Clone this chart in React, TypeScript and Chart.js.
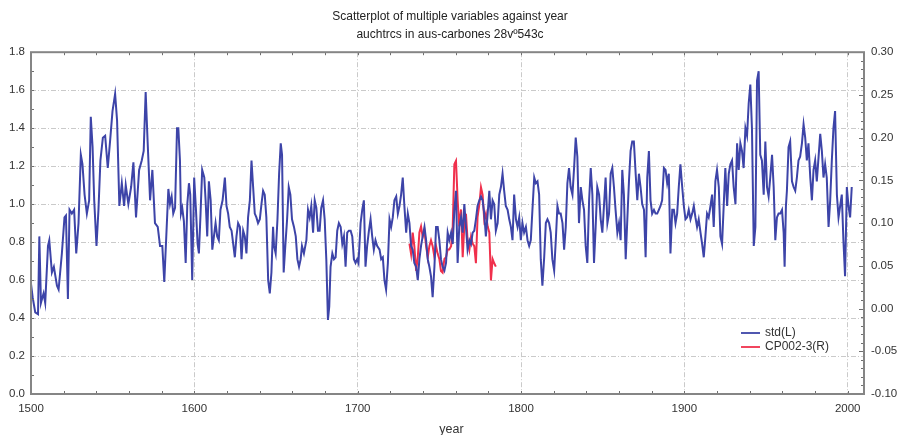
import React, { useEffect, useRef } from 'react';
import { Chart, registerables } from 'chart.js';

Chart.register(...registerables);

const titleLines = ['Scatterplot of multiple variables against year', 'auchtrcs in aus-carbones 28vº543c'];
const xTitle = 'year';
const seriesNames = ['std(L)', 'CP002-3(R)'];
const xTicks = [1500, 1600, 1700, 1800, 1900, 2000];
const leftTicks = [0, 0.2, 0.4, 0.6, 0.8, 1.0, 1.2, 1.4, 1.6, 1.8];
const rightTicks = [-0.1, -0.05, 0, 0.05, 0.1, 0.15, 0.2, 0.25, 0.3];

const stdYears = [
  1500.0, 1501.0, 1502.6, 1504.3, 1505.1, 1506.1, 1507.7, 1508.7, 1510.4, 1511.2, 1512.8, 1514.0, 1515.9, 1516.9, 1518.9,
  1520.5, 1521.4, 1522.6, 1523.6, 1525.0, 1526.4, 1527.7, 1529.1, 1530.5, 1531.5, 1532.8, 1534.2, 1535.6, 1536.6, 1537.7,
  1538.7, 1540.1, 1541.3, 1542.5, 1544.0, 1545.4, 1547.0, 1548.4, 1549.9, 1551.5, 1552.7, 1554.1, 1555.6, 1557.0, 1558.0,
  1559.6, 1561.3, 1562.7, 1564.3, 1566.2, 1567.8, 1569.0, 1570.2, 1571.4, 1572.9, 1574.3, 1575.9, 1577.6, 1579.0, 1580.4,
  1581.6,
  1584.1, 1585.1, 1586.1, 1587.1, 1588.2, 1589.4, 1590.2, 1591.2, 1591.8, 1592.6, 1593.6, 1594.7, 1595.7, 1596.7, 1597.5,
  1598.7, 1599.9, 1601.0, 1602.0, 1602.8, 1603.8, 1604.8, 1606.1, 1606.9, 1607.9, 1608.9, 1610.0, 1611.0, 1612.0, 1613.0,
  1614.0, 1615.0, 1616.0, 1617.3, 1618.7, 1619.7, 1620.7, 1621.7, 1622.8, 1623.8, 1624.8, 1625.8, 1626.8, 1627.9, 1628.9,
  1629.9, 1630.9, 1631.9, 1632.9, 1634.0, 1635.0, 1636.0, 1637.0, 1638.0, 1639.0, 1640.1, 1641.1, 1642.1, 1643.1, 1644.1,
  1645.2, 1646.2, 1647.2, 1648.2, 1648.8, 1649.8, 1650.9, 1651.9, 1652.9, 1653.7, 1654.7, 1655.7, 1656.8, 1657.8, 1658.8,
  1659.8, 1661.0, 1662.1, 1663.1, 1664.1, 1665.1, 1665.9, 1667.1,
  1668.6, 1669.6, 1670.6, 1671.6, 1672.7, 1673.7, 1674.7, 1675.7, 1676.7, 1677.7, 1678.8, 1679.8, 1680.8, 1681.8, 1682.6,
  1683.4, 1684.5, 1685.5, 1686.5, 1687.5, 1688.5, 1689.6, 1690.6, 1691.6, 1692.6, 1693.6, 1694.6, 1695.7, 1696.7, 1697.7,
  1698.7, 1699.7, 1700.5, 1701.8, 1702.8, 1703.8, 1704.8, 1705.8, 1706.9, 1707.9, 1708.9, 1709.9, 1710.9, 1711.9, 1713.4,
  1714.4, 1715.4, 1716.4, 1717.4, 1718.5, 1719.5, 1720.5, 1721.5, 1722.5, 1723.6, 1724.6, 1725.6, 1726.6, 1727.6, 1728.6,
  1729.7, 1730.7, 1731.7, 1732.7, 1733.7, 1734.7, 1735.8, 1736.8, 1737.8, 1738.8, 1739.8, 1740.9, 1741.9, 1742.9, 1743.9,
  1744.9, 1745.9, 1747.0, 1748.0, 1749.0, 1750.0, 1751.0, 1752.0, 1753.1, 1754.1,
  1755.1, 1756.1, 1757.2, 1758.2, 1759.2, 1760.2, 1761.2, 1762.2, 1763.3, 1764.3, 1765.3, 1766.3, 1767.3, 1768.4, 1769.4,
  1770.4, 1771.4, 1772.4, 1773.4, 1774.5, 1775.5, 1776.5, 1777.5, 1778.5, 1779.6, 1780.6, 1781.6, 1782.6, 1783.6, 1784.6,
  1785.7, 1786.7, 1787.7, 1788.7, 1789.7, 1790.7, 1791.8, 1792.8, 1793.8, 1794.8, 1795.8, 1796.9, 1797.9, 1798.9, 1799.9,
  1800.9, 1801.9, 1803.0, 1804.0, 1805.0, 1806.0, 1807.0, 1808.1, 1809.1, 1810.1, 1811.1, 1812.1, 1813.1, 1814.2, 1815.2,
  1816.2, 1817.2, 1818.2, 1819.2, 1820.3, 1821.3, 1822.3, 1823.3, 1824.3, 1825.4, 1826.4, 1827.4, 1828.4, 1829.4, 1830.4,
  1831.5, 1832.5, 1833.5, 1834.5, 1835.5, 1836.6, 1837.6, 1838.6,
  1839.6, 1840.6, 1841.7, 1842.7, 1843.7, 1844.7, 1845.7, 1846.7, 1847.8, 1848.8, 1849.8, 1850.8, 1851.8, 1852.9, 1853.9,
  1854.9, 1855.9, 1856.9, 1857.9, 1859.0, 1860.0, 1861.0, 1862.0, 1863.0, 1864.1, 1865.1, 1866.1, 1867.1, 1868.1, 1869.1,
  1870.2, 1871.2, 1872.2, 1873.2, 1874.2, 1875.3, 1876.3, 1877.3, 1878.3, 1879.3, 1880.3, 1881.4, 1882.4, 1883.4, 1884.4,
  1885.4, 1886.4, 1887.5, 1888.5, 1889.5, 1890.5, 1891.5, 1892.6, 1893.6, 1894.6, 1895.6, 1896.6, 1897.6, 1898.7, 1899.7,
  1900.7, 1901.7, 1902.7, 1903.8, 1904.8, 1905.8, 1906.8, 1907.8, 1908.8, 1909.9, 1910.9, 1911.9, 1912.9, 1913.9, 1914.9,
  1916.0, 1917.0, 1918.0, 1919.0, 1920.0, 1921.1, 1922.1, 1923.1, 1924.1, 1925.1,
  1926.2, 1927.2, 1928.2, 1929.2, 1930.2, 1931.3, 1932.3, 1933.3, 1934.3, 1935.3, 1936.3, 1937.4, 1938.4, 1939.4, 1940.4,
  1941.4, 1942.5, 1943.5, 1944.5, 1945.5, 1946.5, 1947.5, 1948.6, 1949.6, 1950.6, 1951.6, 1952.6, 1953.7, 1954.7, 1955.7,
  1956.7, 1957.7, 1958.7, 1959.8, 1960.8, 1961.4, 1962.2, 1962.8, 1963.8, 1964.8, 1965.9, 1966.9, 1967.9, 1968.9, 1969.9,
  1970.9, 1972.0, 1973.0, 1974.0, 1975.0, 1976.0, 1977.1, 1978.1, 1979.1, 1980.1, 1981.1, 1982.2, 1983.2, 1984.2, 1985.2,
  1986.2, 1987.2, 1988.3, 1989.3, 1990.3, 1991.3, 1992.3, 1993.4, 1994.4, 1995.4, 1996.4, 1997.4, 1998.4, 1999.5, 2000.5,
  2001.5, 2002.5,
];

const stdValues = [
  0.58, 0.51, 0.43, 0.42, 0.83, 0.48, 0.53, 0.48, 0.78, 0.81, 0.64, 0.67, 0.57, 0.55, 0.74,
  0.93, 0.94, 0.50, 0.97, 0.95, 0.97, 0.74, 0.90, 1.26, 1.21, 1.05, 0.95, 1.02, 1.46, 1.30,
  1.02, 0.78, 0.97, 1.23, 1.35, 1.36, 1.19, 1.33, 1.49, 1.58, 1.44, 0.99, 1.11, 0.99, 1.10,
  1.00, 1.09, 1.22, 0.93, 1.18, 1.23, 1.28, 1.59, 1.33, 1.02, 1.18, 0.90, 0.88, 0.78, 0.78,
  0.59,
  1.08, 1.00, 1.04, 0.95, 0.98, 1.40, 1.40, 1.23, 0.95, 0.98, 0.91, 0.69, 1.00, 1.11, 1.05,
  0.60, 1.14, 0.97, 0.79, 0.74, 0.95, 1.18, 1.14, 1.02, 0.83, 1.12, 1.02, 0.76, 0.83, 0.90,
  0.83, 0.81, 0.97, 1.02, 1.14, 0.99, 0.95, 0.88, 0.86, 0.79, 0.72, 0.83, 0.90, 0.88, 0.71,
  0.86, 0.83, 0.74, 0.93, 1.02, 1.23, 1.09, 0.95, 0.93, 0.90, 0.92, 1.00, 1.07, 1.05, 0.93,
  0.60, 0.53, 0.64, 0.88, 0.78, 0.74, 0.92, 1.16, 1.32, 1.26, 0.64, 0.78, 0.92, 1.09, 1.05,
  0.92, 0.88, 0.83, 0.71, 0.67, 0.71, 0.78, 0.74,
  0.81, 0.97, 0.93, 0.99, 0.85, 1.02, 0.98, 0.86, 0.86, 0.98, 1.02, 0.92, 0.71, 0.39, 0.46,
  0.67, 0.74, 0.71, 0.72, 0.86, 0.90, 0.88, 0.79, 0.83, 0.67, 0.85, 0.86, 0.86, 0.83, 0.71,
  0.69, 0.71, 0.69, 0.90, 0.97, 1.02, 0.67, 0.78, 0.86, 0.92, 0.83, 0.76, 0.81, 0.78, 0.76,
  0.71, 0.72, 0.60, 0.55, 0.69, 0.92, 0.88, 0.93, 1.02, 1.04, 0.95, 0.99, 1.05, 1.14, 0.99,
  0.85, 0.95, 0.90, 0.78, 0.76, 0.69, 0.67, 0.60, 0.71, 0.78, 0.83, 0.88, 0.81, 0.71, 0.67,
  0.62, 0.51, 0.67, 0.88, 0.88, 0.81, 0.71, 0.67, 0.65, 0.69,
  0.85, 0.81, 0.85, 0.79, 0.97, 1.07, 0.69, 0.88, 0.93, 0.85, 1.00, 0.88, 0.76, 0.81, 0.79,
  0.85, 0.86, 0.92, 0.99, 1.02, 1.04, 1.02, 0.95, 0.83, 0.95, 1.07, 0.92, 1.02, 1.00, 0.86,
  0.90, 1.05, 1.09, 1.16, 1.07, 0.99, 0.97, 0.92, 0.88, 0.81, 1.05, 0.92, 0.88, 0.93, 0.81,
  0.90, 0.85, 0.88, 0.81, 0.78, 0.81, 0.97, 1.14, 1.11, 1.12, 1.05, 0.71, 0.57, 0.72, 0.90,
  0.92, 0.90, 0.85, 0.71, 0.65, 0.81, 0.99, 0.95, 0.95, 0.90, 0.76, 0.88, 1.11, 1.19, 1.09,
  1.05, 1.19, 1.35, 1.25, 0.90, 1.09, 1.02, 0.97,
  0.78, 0.69, 1.02, 1.19, 1.05, 0.69, 0.88, 1.09, 1.05, 0.92, 0.85, 0.99, 1.14, 0.90, 0.95,
  1.16, 1.19, 1.09, 0.97, 0.85, 0.90, 0.81, 1.18, 1.05, 0.71, 0.92, 1.12, 1.28, 1.33, 1.33,
  1.16, 1.02, 1.16, 1.09, 1.00, 0.97, 0.72, 1.14, 1.28, 1.02, 0.95, 0.97, 0.95, 0.95, 0.97,
  0.99, 1.02, 1.19, 1.18, 1.11, 1.16, 0.74, 0.97, 0.97, 0.90, 0.95, 1.09, 1.21, 1.09, 0.99,
  0.92, 0.93, 0.97, 0.92, 0.95, 0.99, 0.93, 0.88, 0.92, 0.85, 0.79, 0.72, 0.83, 0.95, 0.93,
  0.99, 1.05, 0.88, 1.12, 1.18, 1.09, 0.83, 0.79, 0.99, 1.19,
  0.99, 1.16, 1.21, 1.23, 1.09, 1.00, 1.32, 1.18, 1.32, 1.28, 1.19, 1.40, 1.36, 1.53, 1.63,
  1.40, 0.78, 0.88, 1.65, 1.70, 1.26, 1.23, 1.05, 1.33, 1.09, 1.04, 1.14, 1.26, 1.09, 0.81,
  0.93, 0.95, 0.95, 0.97, 0.85, 0.67, 0.99, 1.07, 1.30, 1.33, 1.12, 1.09, 1.07, 1.14, 1.23,
  1.25, 1.32, 1.42, 1.35, 1.23, 1.32, 1.14, 1.02, 1.18, 1.23, 1.12, 1.25, 1.37, 1.28, 1.14,
  1.21, 1.14, 0.88, 1.02, 1.23, 1.40, 1.49, 1.05, 0.93, 0.99, 1.05, 0.81, 0.62, 1.09, 0.99,
  0.93, 1.09,
];

const cpYears = [
  1731.7, 1732.7, 1733.7, 1734.7, 1735.8, 1736.8, 1737.8, 1738.8, 1739.8, 1740.9, 1741.9, 1742.9, 1743.9, 1744.9, 1745.9,
  1747.0, 1748.0, 1749.0, 1750.0, 1751.0, 1752.0, 1753.1, 1754.1, 1755.1, 1756.1, 1757.2, 1758.2, 1759.2, 1760.2, 1761.2,
  1762.2, 1763.3, 1764.3, 1765.3, 1766.3, 1767.3, 1768.4, 1769.4, 1770.4, 1771.4, 1772.4, 1773.4, 1774.5, 1775.5, 1776.5,
  1777.5, 1778.5, 1779.6, 1780.6, 1781.6, 1782.6, 1783.6, 1784.6,
];

const cpValues = [
  0.076, 0.064, 0.089, 0.073, 0.044, 0.060, 0.089, 0.096, 0.084, 0.091, 0.073, 0.060, 0.073, 0.080, 0.073,
  0.060, 0.073, 0.064, 0.058, 0.044, 0.042, 0.058, 0.060, 0.069, 0.069, 0.073, 0.096, 0.169, 0.173, 0.127,
  0.096, 0.116, 0.060, 0.096, 0.111, 0.080, 0.069, 0.084, 0.076, 0.073, 0.053, 0.107, 0.122, 0.142, 0.133,
  0.104, 0.111, 0.096, 0.089, 0.033, 0.058, 0.053, 0.049,
];

const BLUE = '#3d44a8';
const RED = '#f0304c';
const TEXT = '#333333';
const NARROW = "'Liberation Sans Narrow', 'Arial Narrow', 'Liberation Sans', Arial, sans-serif";
const SANS = "'Liberation Sans', Arial, Helvetica, sans-serif";

const framePlugin = {
  id: 'frame',
  afterDatasetsDraw(chart: any) {
    const { ctx, chartArea: a, scales } = chart;
    ctx.save();
    const seg = (x1: number, y1: number, x2: number, y2: number) => {
      ctx.beginPath();
      ctx.moveTo(x1, y1);
      ctx.lineTo(x2, y2);
      ctx.stroke();
    };
    ctx.strokeStyle = '#6f6f6f';
    ctx.lineWidth = 1;
    for (let v = 1520; v < 2010; v += 20) {
      const x = Math.round(scales.x.getPixelForValue(v)) + 0.5;
      seg(x, a.bottom, x, a.bottom - 3);
      seg(x, a.top, x, a.top + 3);
    }
    for (let i = 1; i < 18; i++) {
      const y = Math.round(scales.y.getPixelForValue(i / 10)) + 0.5;
      seg(a.left, y, a.left + 3, y);
    }
    for (let i = -9; i < 30; i++) {
      const y = Math.round(scales.y1.getPixelForValue(i / 100)) + 0.5;
      seg(a.right, y, a.right - (i % 5 === 0 ? 5 : 3), y);
    }
    ctx.strokeStyle = '#858585';
    ctx.lineWidth = 2;
    ctx.strokeRect(a.left, a.top, a.right - a.left, a.bottom - a.top);

    // legend
    const colors = [BLUE, RED];
    ctx.font = `12px ${SANS}`;
    ctx.textBaseline = 'middle';
    ctx.textAlign = 'left';
    seriesNames.forEach((name, i) => {
      const y = a.bottom - 61 + i * 14;
      ctx.strokeStyle = colors[i];
      ctx.lineWidth = 1.8;
      seg(a.right - 123, y, a.right - 104, y);
      ctx.fillStyle = TEXT;
      ctx.fillText(name, a.right - 99, y);
    });

    // x title
    ctx.font = `12.5px ${SANS}`;
    ctx.textAlign = 'center';
    ctx.fillStyle = TEXT;
    ctx.fillText(xTitle, (a.left + a.right) / 2 + 4, 430);
    ctx.restore();
  },
};

export default function App() {
  const ref = useRef<HTMLCanvasElement | null>(null);

  useEffect(() => {
    document.body.style.margin = '0';
    const canvas = ref.current;
    if (!canvas) return;
    const chart = new Chart(canvas, {
      type: 'line',
      data: {
        datasets: [
          {
            label: seriesNames[0],
            data: stdYears.map((x, i) => ({ x, y: stdValues[i] })),
            borderColor: BLUE,
            borderWidth: 2,
            pointRadius: 0,
            yAxisID: 'y',
            tension: 0,
          },
          {
            label: seriesNames[1],
            data: cpYears.map((x, i) => ({ x, y: cpValues[i] })),
            borderColor: RED,
            borderWidth: 2,
            pointRadius: 0,
            yAxisID: 'y1',
            tension: 0,
          },
        ],
      },
      options: {
        responsive: false,
        animation: false,
        devicePixelRatio: 1,
        layout: { padding: 0 },
        plugins: {
          legend: { display: false },
          tooltip: { enabled: false },
          title: {
            display: true,
            text: titleLines,
            color: '#222222',
            font: { family: NARROW, size: 12, weight: 'normal', lineHeight: 1.55 },
            padding: { top: 7, bottom: 8 },
          },
        },
        scales: {
          x: {
            type: 'linear',
            min: 1500,
            max: 2010,
            afterBuildTicks: (s: any) => { s.ticks = xTicks.map((value) => ({ value })); },
            afterFit: (s: any) => { s.height = 41; },
            ticks: {
              color: TEXT,
              font: { family: SANS, size: 11.5 },
              padding: 8,
              maxRotation: 0,
              autoSkip: false,
              callback: (v: any) => String(v),
            },
            grid: {
              color: (c: any) => (c.tick && c.tick.value === 1500 ? 'rgba(0,0,0,0)' : '#cacaca'),
              lineWidth: 1,
              drawTicks: false,
            },
            border: { display: false, dash: [5, 2, 1, 2] },
          },
          y: {
            type: 'linear',
            position: 'left',
            min: 0,
            max: 1.8,
            afterBuildTicks: (s: any) => { s.ticks = leftTicks.map((value) => ({ value })); },
            afterFit: (s: any) => { s.width = 31; },
            ticks: {
              color: TEXT,
              font: { family: SANS, size: 11.5 },
              padding: 6,
              callback: (v: any) => Number(v).toFixed(1),
            },
            grid: {
              color: (c: any) => (c.tick && (c.tick.value === 0 || c.tick.value === 1.8) ? 'rgba(0,0,0,0)' : '#cacaca'),
              lineWidth: 1,
              drawTicks: false,
            },
            border: { display: false, dash: [5, 2, 1, 2] },
          },
          y1: {
            type: 'linear',
            position: 'right',
            min: -0.1,
            max: 0.3,
            afterBuildTicks: (s: any) => { s.ticks = rightTicks.map((value) => ({ value })); },
            afterFit: (s: any) => { s.width = 36; },
            ticks: {
              color: TEXT,
              font: { family: SANS, size: 11.5 },
              padding: 7,
              callback: (v: any) => Number(v).toFixed(2),
            },
            grid: { display: false, drawTicks: false },
            border: { display: false },
          },
        },
      },
      plugins: [framePlugin],
    } as any);
    return () => chart.destroy();
  }, []);

  return (
    <div style={{ width: 900, height: 435, background: '#ffffff' }}>
      <canvas ref={ref} width={900} height={435} style={{ display: 'block', width: 900, height: 435 }} />
    </div>
  );
}
